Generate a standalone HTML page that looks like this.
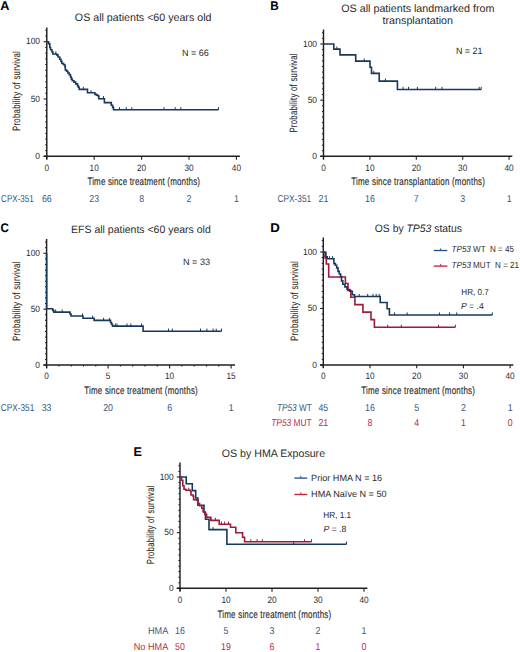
<!DOCTYPE html>
<html><head><meta charset="utf-8"><style>
html,body{margin:0;padding:0;background:#fff;}
body{width:520px;height:652px;overflow:hidden;}
svg{display:block;}
text{font-family:"Liberation Sans",sans-serif;text-rendering:geometricPrecision;}
</style></head><body>
<svg width="520" height="652" viewBox="0 0 520 652" font-family="Liberation Sans, sans-serif">
<rect width="520" height="652" fill="#ffffff"/>
<text x="0.3" y="10.4" font-size="12.6" fill="#000" font-weight="bold" textLength="9.2" lengthAdjust="spacingAndGlyphs">A</text>
<text x="74.85" y="20.7" font-size="10.8" fill="#2b2b2b" textLength="136.6" lengthAdjust="spacingAndGlyphs">OS all patients &lt;60 years old</text>
<text x="182" y="55.8" font-size="9.2" fill="#2b2b2b" textLength="26.8" lengthAdjust="spacingAndGlyphs">N = 66</text>
<line x1="46.8" y1="27.5" x2="46.8" y2="159.3" stroke="#231f20" stroke-width="1.45"/>
<line x1="43.6" y1="156.3" x2="239.9" y2="156.3" stroke="#231f20" stroke-width="1.45"/>
<line x1="43.6" y1="156.3" x2="46.8" y2="156.3" stroke="#231f20" stroke-width="1.1"/>
<line x1="45.2" y1="150.57" x2="46.8" y2="150.57" stroke="#231f20" stroke-width="1"/>
<line x1="45.2" y1="144.84" x2="46.8" y2="144.84" stroke="#231f20" stroke-width="1"/>
<line x1="45.2" y1="139.11" x2="46.8" y2="139.11" stroke="#231f20" stroke-width="1"/>
<line x1="45.2" y1="133.38" x2="46.8" y2="133.38" stroke="#231f20" stroke-width="1"/>
<line x1="45.2" y1="127.65" x2="46.8" y2="127.65" stroke="#231f20" stroke-width="1"/>
<line x1="45.2" y1="121.92" x2="46.8" y2="121.92" stroke="#231f20" stroke-width="1"/>
<line x1="45.2" y1="116.19" x2="46.8" y2="116.19" stroke="#231f20" stroke-width="1"/>
<line x1="45.2" y1="110.46" x2="46.8" y2="110.46" stroke="#231f20" stroke-width="1"/>
<line x1="45.2" y1="104.73" x2="46.8" y2="104.73" stroke="#231f20" stroke-width="1"/>
<line x1="43.6" y1="99" x2="46.8" y2="99" stroke="#231f20" stroke-width="1.1"/>
<line x1="45.2" y1="93.27" x2="46.8" y2="93.27" stroke="#231f20" stroke-width="1"/>
<line x1="45.2" y1="87.54" x2="46.8" y2="87.54" stroke="#231f20" stroke-width="1"/>
<line x1="45.2" y1="81.81" x2="46.8" y2="81.81" stroke="#231f20" stroke-width="1"/>
<line x1="45.2" y1="76.08" x2="46.8" y2="76.08" stroke="#231f20" stroke-width="1"/>
<line x1="45.2" y1="70.35" x2="46.8" y2="70.35" stroke="#231f20" stroke-width="1"/>
<line x1="45.2" y1="64.62" x2="46.8" y2="64.62" stroke="#231f20" stroke-width="1"/>
<line x1="45.2" y1="58.89" x2="46.8" y2="58.89" stroke="#231f20" stroke-width="1"/>
<line x1="45.2" y1="53.16" x2="46.8" y2="53.16" stroke="#231f20" stroke-width="1"/>
<line x1="45.2" y1="47.43" x2="46.8" y2="47.43" stroke="#231f20" stroke-width="1"/>
<line x1="43.6" y1="41.7" x2="46.8" y2="41.7" stroke="#231f20" stroke-width="1.1"/>
<line x1="45.2" y1="35.97" x2="46.8" y2="35.97" stroke="#231f20" stroke-width="1"/>
<line x1="45.2" y1="30.24" x2="46.8" y2="30.24" stroke="#231f20" stroke-width="1"/>
<line x1="46.8" y1="156.3" x2="46.8" y2="159.7" stroke="#231f20" stroke-width="1.1"/>
<line x1="94.2" y1="156.3" x2="94.2" y2="159.7" stroke="#231f20" stroke-width="1.1"/>
<line x1="141.6" y1="156.3" x2="141.6" y2="159.7" stroke="#231f20" stroke-width="1.1"/>
<line x1="189" y1="156.3" x2="189" y2="159.7" stroke="#231f20" stroke-width="1.1"/>
<line x1="236.4" y1="156.3" x2="236.4" y2="159.7" stroke="#231f20" stroke-width="1.1"/>
<text x="40" y="44.4" font-size="9.1" fill="#2b2b2b" text-anchor="end" textLength="13.97" lengthAdjust="spacingAndGlyphs">100</text>
<text x="40" y="101.7" font-size="9.1" fill="#2b2b2b" text-anchor="end" textLength="9.31" lengthAdjust="spacingAndGlyphs">50</text>
<text x="40" y="159" font-size="9.1" fill="#2b2b2b" text-anchor="end" textLength="4.66" lengthAdjust="spacingAndGlyphs">0</text>
<text x="46.8" y="170.6" font-size="9.2" fill="#2b2b2b" text-anchor="middle" textLength="4.6" lengthAdjust="spacingAndGlyphs">0</text>
<text x="94.2" y="170.6" font-size="9.2" fill="#2b2b2b" text-anchor="middle" textLength="9.21" lengthAdjust="spacingAndGlyphs">10</text>
<text x="141.6" y="170.6" font-size="9.2" fill="#2b2b2b" text-anchor="middle" textLength="9.21" lengthAdjust="spacingAndGlyphs">20</text>
<text x="189" y="170.6" font-size="9.2" fill="#2b2b2b" text-anchor="middle" textLength="9.21" lengthAdjust="spacingAndGlyphs">30</text>
<text x="236.4" y="170.6" font-size="9.2" fill="#2b2b2b" text-anchor="middle" textLength="9.21" lengthAdjust="spacingAndGlyphs">40</text>
<text transform="translate(87.4 185) scale(0.74 1)" x="0" y="0" font-size="10.8" fill="#2b2b2b" stroke="#2b2b2b" stroke-width="0.15" textLength="152.16" lengthAdjust="spacing">Time since treatment (months)</text>
<text transform="translate(19.9 91.1) rotate(-90) scale(0.74 1)" x="0" y="0" font-size="10.6" fill="#2b2b2b" stroke="#2b2b2b" stroke-width="0.1" text-anchor="middle" textLength="107.84" lengthAdjust="spacing">Probability of survival</text>
<text x="1.1" y="201.7" font-size="10" fill="#34587f" textLength="32.7" lengthAdjust="spacingAndGlyphs">CPX-351</text>
<text x="46.8" y="201.7" font-size="10" fill="#34587f" text-anchor="middle" textLength="9.79" lengthAdjust="spacingAndGlyphs">66</text>
<text x="94.2" y="201.7" font-size="10" fill="#34587f" text-anchor="middle" textLength="9.79" lengthAdjust="spacingAndGlyphs">23</text>
<text x="141.6" y="201.7" font-size="10" fill="#34587f" text-anchor="middle" textLength="4.89" lengthAdjust="spacingAndGlyphs">8</text>
<text x="189" y="201.7" font-size="10" fill="#34587f" text-anchor="middle" textLength="4.89" lengthAdjust="spacingAndGlyphs">2</text>
<text x="236.4" y="201.7" font-size="10" fill="#34587f" text-anchor="middle" textLength="4.89" lengthAdjust="spacingAndGlyphs">1</text>
<path d="M46.8 41.7H48.5V43.6H49.8V47.5H50.6V49.7H51.9V51.8H52.8V54H55.8V54H56.7V54.9H58V57H59.7V59.2H61V61.4H61.9V63.5H63.6V64.8H64.9V66.6H65.3V70H66.6V71.3H67.9V73H69.2V74.8H70.5V77H71.4V79.1H72.3V80.8H74V82.1H75.7V83.9H77.5V85.6H78.3V87.3H79.2V89.4H87.5V92.7H94.9V94.4H96.6V95.3H98.3V96.1H98.8V98.7H104.4V102.6H111.3V105.2H112.6V107.4H113.5V109.8H218.5V109.8" fill="none" stroke="#17395f" stroke-width="1.6" stroke-linejoin="miter" stroke-linecap="butt"/>
<line x1="55.8" y1="54" x2="55.8" y2="51.4" stroke="#17395f" stroke-width="1"/>
<line x1="83.4" y1="89.4" x2="83.4" y2="86.8" stroke="#17395f" stroke-width="1"/>
<line x1="91" y1="92.7" x2="91" y2="90.1" stroke="#17395f" stroke-width="1"/>
<line x1="103.5" y1="98.7" x2="103.5" y2="96.1" stroke="#17395f" stroke-width="1"/>
<line x1="119.5" y1="109.8" x2="119.5" y2="107.2" stroke="#17395f" stroke-width="1"/>
<line x1="126.2" y1="109.8" x2="126.2" y2="107.2" stroke="#17395f" stroke-width="1"/>
<line x1="131.8" y1="109.8" x2="131.8" y2="107.2" stroke="#17395f" stroke-width="1"/>
<line x1="164" y1="109.8" x2="164" y2="107.2" stroke="#17395f" stroke-width="1"/>
<line x1="175.2" y1="109.8" x2="175.2" y2="107.2" stroke="#17395f" stroke-width="1"/>
<line x1="180.9" y1="109.8" x2="180.9" y2="107.2" stroke="#17395f" stroke-width="1"/>
<line x1="218.5" y1="109.8" x2="218.5" y2="107.2" stroke="#17395f" stroke-width="1"/>
<text x="270.2" y="10.4" font-size="12.6" fill="#000" font-weight="bold" textLength="8.5" lengthAdjust="spacingAndGlyphs">B</text>
<text x="341.25" y="11.5" font-size="10.8" fill="#2b2b2b" textLength="153.2" lengthAdjust="spacingAndGlyphs">OS all patients landmarked from</text>
<text x="382.5" y="24" font-size="10.8" fill="#2b2b2b" textLength="70.5" lengthAdjust="spacingAndGlyphs">transplantation</text>
<text x="455.9" y="54.4" font-size="9.2" fill="#2b2b2b" textLength="26.6" lengthAdjust="spacingAndGlyphs">N = 21</text>
<line x1="323.5" y1="29.5" x2="323.5" y2="159.3" stroke="#231f20" stroke-width="1.45"/>
<line x1="320.3" y1="156.3" x2="512.3" y2="156.3" stroke="#231f20" stroke-width="1.45"/>
<line x1="320.3" y1="156.3" x2="323.5" y2="156.3" stroke="#231f20" stroke-width="1.1"/>
<line x1="321.9" y1="150.69" x2="323.5" y2="150.69" stroke="#231f20" stroke-width="1"/>
<line x1="321.9" y1="145.07" x2="323.5" y2="145.07" stroke="#231f20" stroke-width="1"/>
<line x1="321.9" y1="139.46" x2="323.5" y2="139.46" stroke="#231f20" stroke-width="1"/>
<line x1="321.9" y1="133.84" x2="323.5" y2="133.84" stroke="#231f20" stroke-width="1"/>
<line x1="321.9" y1="128.22" x2="323.5" y2="128.22" stroke="#231f20" stroke-width="1"/>
<line x1="321.9" y1="122.61" x2="323.5" y2="122.61" stroke="#231f20" stroke-width="1"/>
<line x1="321.9" y1="117" x2="323.5" y2="117" stroke="#231f20" stroke-width="1"/>
<line x1="321.9" y1="111.38" x2="323.5" y2="111.38" stroke="#231f20" stroke-width="1"/>
<line x1="321.9" y1="105.77" x2="323.5" y2="105.77" stroke="#231f20" stroke-width="1"/>
<line x1="320.3" y1="100.15" x2="323.5" y2="100.15" stroke="#231f20" stroke-width="1.1"/>
<line x1="321.9" y1="94.53" x2="323.5" y2="94.53" stroke="#231f20" stroke-width="1"/>
<line x1="321.9" y1="88.92" x2="323.5" y2="88.92" stroke="#231f20" stroke-width="1"/>
<line x1="321.9" y1="83.3" x2="323.5" y2="83.3" stroke="#231f20" stroke-width="1"/>
<line x1="321.9" y1="77.69" x2="323.5" y2="77.69" stroke="#231f20" stroke-width="1"/>
<line x1="321.9" y1="72.07" x2="323.5" y2="72.07" stroke="#231f20" stroke-width="1"/>
<line x1="321.9" y1="66.46" x2="323.5" y2="66.46" stroke="#231f20" stroke-width="1"/>
<line x1="321.9" y1="60.84" x2="323.5" y2="60.84" stroke="#231f20" stroke-width="1"/>
<line x1="321.9" y1="55.23" x2="323.5" y2="55.23" stroke="#231f20" stroke-width="1"/>
<line x1="321.9" y1="49.61" x2="323.5" y2="49.61" stroke="#231f20" stroke-width="1"/>
<line x1="320.3" y1="44" x2="323.5" y2="44" stroke="#231f20" stroke-width="1.1"/>
<line x1="321.9" y1="38.38" x2="323.5" y2="38.38" stroke="#231f20" stroke-width="1"/>
<line x1="321.9" y1="32.77" x2="323.5" y2="32.77" stroke="#231f20" stroke-width="1"/>
<line x1="323.5" y1="156.3" x2="323.5" y2="159.7" stroke="#231f20" stroke-width="1.1"/>
<line x1="369.9" y1="156.3" x2="369.9" y2="159.7" stroke="#231f20" stroke-width="1.1"/>
<line x1="416.3" y1="156.3" x2="416.3" y2="159.7" stroke="#231f20" stroke-width="1.1"/>
<line x1="462.7" y1="156.3" x2="462.7" y2="159.7" stroke="#231f20" stroke-width="1.1"/>
<line x1="509.1" y1="156.3" x2="509.1" y2="159.7" stroke="#231f20" stroke-width="1.1"/>
<text x="317" y="46.7" font-size="9.1" fill="#2b2b2b" text-anchor="end" textLength="13.97" lengthAdjust="spacingAndGlyphs">100</text>
<text x="317" y="102.85" font-size="9.1" fill="#2b2b2b" text-anchor="end" textLength="9.31" lengthAdjust="spacingAndGlyphs">50</text>
<text x="317" y="159" font-size="9.1" fill="#2b2b2b" text-anchor="end" textLength="4.66" lengthAdjust="spacingAndGlyphs">0</text>
<text x="323.5" y="170.7" font-size="9.2" fill="#2b2b2b" text-anchor="middle" textLength="4.6" lengthAdjust="spacingAndGlyphs">0</text>
<text x="369.9" y="170.7" font-size="9.2" fill="#2b2b2b" text-anchor="middle" textLength="9.21" lengthAdjust="spacingAndGlyphs">10</text>
<text x="416.3" y="170.7" font-size="9.2" fill="#2b2b2b" text-anchor="middle" textLength="9.21" lengthAdjust="spacingAndGlyphs">20</text>
<text x="462.7" y="170.7" font-size="9.2" fill="#2b2b2b" text-anchor="middle" textLength="9.21" lengthAdjust="spacingAndGlyphs">30</text>
<text x="509.1" y="170.7" font-size="9.2" fill="#2b2b2b" text-anchor="middle" textLength="9.21" lengthAdjust="spacingAndGlyphs">40</text>
<text transform="translate(351.25 185) scale(0.74 1)" x="0" y="0" font-size="10.8" fill="#2b2b2b" stroke="#2b2b2b" stroke-width="0.15" textLength="180.68" lengthAdjust="spacing">Time since transplantation (months)</text>
<text transform="translate(297.1 93) rotate(-90) scale(0.74 1)" x="0" y="0" font-size="10.6" fill="#2b2b2b" stroke="#2b2b2b" stroke-width="0.1" text-anchor="middle" textLength="107.03" lengthAdjust="spacing">Probability of survival</text>
<text x="277.5" y="201.9" font-size="10" fill="#34587f" textLength="33.7" lengthAdjust="spacingAndGlyphs">CPX-351</text>
<text x="323.5" y="201.9" font-size="10" fill="#34587f" text-anchor="middle" textLength="9.79" lengthAdjust="spacingAndGlyphs">21</text>
<text x="369.9" y="201.9" font-size="10" fill="#34587f" text-anchor="middle" textLength="9.79" lengthAdjust="spacingAndGlyphs">16</text>
<text x="416.3" y="201.9" font-size="10" fill="#34587f" text-anchor="middle" textLength="4.89" lengthAdjust="spacingAndGlyphs">7</text>
<text x="462.7" y="201.9" font-size="10" fill="#34587f" text-anchor="middle" textLength="4.89" lengthAdjust="spacingAndGlyphs">3</text>
<text x="509.1" y="201.9" font-size="10" fill="#34587f" text-anchor="middle" textLength="4.89" lengthAdjust="spacingAndGlyphs">1</text>
<path d="M323.5 44H333.8V49.1H340V54.9H355.7V61.1H370V67.2H371.5V73.4H379.2V81.1H397.4V89.5H481.2V89.5" fill="none" stroke="#17395f" stroke-width="1.6" stroke-linejoin="miter" stroke-linecap="butt"/>
<line x1="336.9" y1="49.1" x2="336.9" y2="46.5" stroke="#17395f" stroke-width="1"/>
<line x1="364.2" y1="61.1" x2="364.2" y2="58.5" stroke="#17395f" stroke-width="1"/>
<line x1="373.8" y1="73.4" x2="373.8" y2="70.8" stroke="#17395f" stroke-width="1"/>
<line x1="385.4" y1="81.1" x2="385.4" y2="78.5" stroke="#17395f" stroke-width="1"/>
<line x1="403.1" y1="89.5" x2="403.1" y2="86.9" stroke="#17395f" stroke-width="1"/>
<line x1="408.5" y1="89.5" x2="408.5" y2="86.9" stroke="#17395f" stroke-width="1"/>
<line x1="417.4" y1="89.5" x2="417.4" y2="86.9" stroke="#17395f" stroke-width="1"/>
<line x1="435.7" y1="89.5" x2="435.7" y2="86.9" stroke="#17395f" stroke-width="1"/>
<line x1="442" y1="89.5" x2="442" y2="86.9" stroke="#17395f" stroke-width="1"/>
<line x1="479.2" y1="89.5" x2="479.2" y2="86.9" stroke="#17395f" stroke-width="1"/>
<line x1="481.2" y1="89.5" x2="481.2" y2="86.9" stroke="#17395f" stroke-width="1"/>
<text x="0.4" y="232.2" font-size="12.6" fill="#000" font-weight="bold" textLength="8.4" lengthAdjust="spacingAndGlyphs">C</text>
<text x="71.1" y="232.6" font-size="10.6" fill="#2b2b2b" textLength="139.7" lengthAdjust="spacingAndGlyphs">EFS all patients &lt;60 years old</text>
<text x="183" y="264.8" font-size="9.2" fill="#2b2b2b" textLength="27" lengthAdjust="spacingAndGlyphs">N = 33</text>
<line x1="46.6" y1="239" x2="46.6" y2="368" stroke="#231f20" stroke-width="1.45"/>
<line x1="43.4" y1="365" x2="235" y2="365" stroke="#231f20" stroke-width="1.45"/>
<line x1="43.4" y1="365" x2="46.6" y2="365" stroke="#231f20" stroke-width="1.1"/>
<line x1="45" y1="359.42" x2="46.6" y2="359.42" stroke="#231f20" stroke-width="1"/>
<line x1="45" y1="353.83" x2="46.6" y2="353.83" stroke="#231f20" stroke-width="1"/>
<line x1="45" y1="348.25" x2="46.6" y2="348.25" stroke="#231f20" stroke-width="1"/>
<line x1="45" y1="342.66" x2="46.6" y2="342.66" stroke="#231f20" stroke-width="1"/>
<line x1="45" y1="337.07" x2="46.6" y2="337.07" stroke="#231f20" stroke-width="1"/>
<line x1="45" y1="331.49" x2="46.6" y2="331.49" stroke="#231f20" stroke-width="1"/>
<line x1="45" y1="325.9" x2="46.6" y2="325.9" stroke="#231f20" stroke-width="1"/>
<line x1="45" y1="320.32" x2="46.6" y2="320.32" stroke="#231f20" stroke-width="1"/>
<line x1="45" y1="314.74" x2="46.6" y2="314.74" stroke="#231f20" stroke-width="1"/>
<line x1="43.4" y1="309.15" x2="46.6" y2="309.15" stroke="#231f20" stroke-width="1.1"/>
<line x1="45" y1="303.56" x2="46.6" y2="303.56" stroke="#231f20" stroke-width="1"/>
<line x1="45" y1="297.98" x2="46.6" y2="297.98" stroke="#231f20" stroke-width="1"/>
<line x1="45" y1="292.39" x2="46.6" y2="292.39" stroke="#231f20" stroke-width="1"/>
<line x1="45" y1="286.81" x2="46.6" y2="286.81" stroke="#231f20" stroke-width="1"/>
<line x1="45" y1="281.23" x2="46.6" y2="281.23" stroke="#231f20" stroke-width="1"/>
<line x1="45" y1="275.64" x2="46.6" y2="275.64" stroke="#231f20" stroke-width="1"/>
<line x1="45" y1="270.06" x2="46.6" y2="270.06" stroke="#231f20" stroke-width="1"/>
<line x1="45" y1="264.47" x2="46.6" y2="264.47" stroke="#231f20" stroke-width="1"/>
<line x1="45" y1="258.88" x2="46.6" y2="258.88" stroke="#231f20" stroke-width="1"/>
<line x1="43.4" y1="253.3" x2="46.6" y2="253.3" stroke="#231f20" stroke-width="1.1"/>
<line x1="45" y1="247.72" x2="46.6" y2="247.72" stroke="#231f20" stroke-width="1"/>
<line x1="45" y1="242.13" x2="46.6" y2="242.13" stroke="#231f20" stroke-width="1"/>
<line x1="46.6" y1="365" x2="46.6" y2="368.4" stroke="#231f20" stroke-width="1.1"/>
<line x1="108.1" y1="365" x2="108.1" y2="368.4" stroke="#231f20" stroke-width="1.1"/>
<line x1="169.6" y1="365" x2="169.6" y2="368.4" stroke="#231f20" stroke-width="1.1"/>
<line x1="231.1" y1="365" x2="231.1" y2="368.4" stroke="#231f20" stroke-width="1.1"/>
<line x1="58.9" y1="365" x2="58.9" y2="366.6" stroke="#231f20" stroke-width="1"/>
<line x1="71.2" y1="365" x2="71.2" y2="366.6" stroke="#231f20" stroke-width="1"/>
<line x1="83.5" y1="365" x2="83.5" y2="366.6" stroke="#231f20" stroke-width="1"/>
<line x1="95.8" y1="365" x2="95.8" y2="366.6" stroke="#231f20" stroke-width="1"/>
<line x1="120.4" y1="365" x2="120.4" y2="366.6" stroke="#231f20" stroke-width="1"/>
<line x1="132.7" y1="365" x2="132.7" y2="366.6" stroke="#231f20" stroke-width="1"/>
<line x1="145" y1="365" x2="145" y2="366.6" stroke="#231f20" stroke-width="1"/>
<line x1="157.3" y1="365" x2="157.3" y2="366.6" stroke="#231f20" stroke-width="1"/>
<line x1="181.9" y1="365" x2="181.9" y2="366.6" stroke="#231f20" stroke-width="1"/>
<line x1="194.2" y1="365" x2="194.2" y2="366.6" stroke="#231f20" stroke-width="1"/>
<line x1="206.5" y1="365" x2="206.5" y2="366.6" stroke="#231f20" stroke-width="1"/>
<line x1="218.8" y1="365" x2="218.8" y2="366.6" stroke="#231f20" stroke-width="1"/>
<text x="40" y="256" font-size="9.1" fill="#2b2b2b" text-anchor="end" textLength="13.97" lengthAdjust="spacingAndGlyphs">100</text>
<text x="40" y="311.85" font-size="9.1" fill="#2b2b2b" text-anchor="end" textLength="9.31" lengthAdjust="spacingAndGlyphs">50</text>
<text x="40" y="367.7" font-size="9.1" fill="#2b2b2b" text-anchor="end" textLength="4.66" lengthAdjust="spacingAndGlyphs">0</text>
<text x="46.6" y="379.3" font-size="9.2" fill="#2b2b2b" text-anchor="middle" textLength="4.6" lengthAdjust="spacingAndGlyphs">0</text>
<text x="108.1" y="379.3" font-size="9.2" fill="#2b2b2b" text-anchor="middle" textLength="4.6" lengthAdjust="spacingAndGlyphs">5</text>
<text x="169.6" y="379.3" font-size="9.2" fill="#2b2b2b" text-anchor="middle" textLength="9.21" lengthAdjust="spacingAndGlyphs">10</text>
<text x="231.1" y="379.3" font-size="9.2" fill="#2b2b2b" text-anchor="middle" textLength="9.21" lengthAdjust="spacingAndGlyphs">15</text>
<text transform="translate(84.25 394.3) scale(0.74 1)" x="0" y="0" font-size="10.8" fill="#2b2b2b" stroke="#2b2b2b" stroke-width="0.15" textLength="153.38" lengthAdjust="spacing">Time since treatment (months)</text>
<text transform="translate(20 301.3) rotate(-90) scale(0.74 1)" x="0" y="0" font-size="10.6" fill="#2b2b2b" stroke="#2b2b2b" stroke-width="0.1" text-anchor="middle" textLength="107.3" lengthAdjust="spacing">Probability of survival</text>
<text x="0.75" y="410.5" font-size="10" fill="#34587f" textLength="33.5" lengthAdjust="spacingAndGlyphs">CPX-351</text>
<text x="46.6" y="410.5" font-size="10" fill="#34587f" text-anchor="middle" textLength="9.79" lengthAdjust="spacingAndGlyphs">33</text>
<text x="108.1" y="410.5" font-size="10" fill="#34587f" text-anchor="middle" textLength="9.79" lengthAdjust="spacingAndGlyphs">20</text>
<text x="169.6" y="410.5" font-size="10" fill="#34587f" text-anchor="middle" textLength="4.89" lengthAdjust="spacingAndGlyphs">6</text>
<text x="231.1" y="410.5" font-size="10" fill="#34587f" text-anchor="middle" textLength="4.89" lengthAdjust="spacingAndGlyphs">1</text>
<path d="M46.6 253.3H46.6V308.7H52.7V310.4H53.8V312.1H70V314H71V316H83V318.2H94.1V320.4H110.5V322.5H111.5V324.2H112.5V326.1H143.1V331.2H221.5V331.2" fill="none" stroke="#17395f" stroke-width="1.6" stroke-linejoin="miter" stroke-linecap="butt"/>
<line x1="55.7" y1="312.1" x2="55.7" y2="309.5" stroke="#17395f" stroke-width="1"/>
<line x1="62.2" y1="312.1" x2="62.2" y2="309.5" stroke="#17395f" stroke-width="1"/>
<line x1="82.5" y1="316" x2="82.5" y2="313.4" stroke="#17395f" stroke-width="1"/>
<line x1="92.6" y1="318.2" x2="92.6" y2="315.6" stroke="#17395f" stroke-width="1"/>
<line x1="103.6" y1="320.4" x2="103.6" y2="317.8" stroke="#17395f" stroke-width="1"/>
<line x1="109.4" y1="320.4" x2="109.4" y2="317.8" stroke="#17395f" stroke-width="1"/>
<line x1="115.4" y1="326.1" x2="115.4" y2="323.5" stroke="#17395f" stroke-width="1"/>
<line x1="117" y1="326.1" x2="117" y2="323.5" stroke="#17395f" stroke-width="1"/>
<line x1="127" y1="326.1" x2="127" y2="323.5" stroke="#17395f" stroke-width="1"/>
<line x1="130.8" y1="326.1" x2="130.8" y2="323.5" stroke="#17395f" stroke-width="1"/>
<line x1="141.5" y1="326.1" x2="141.5" y2="323.5" stroke="#17395f" stroke-width="1"/>
<line x1="168.5" y1="331.2" x2="168.5" y2="328.6" stroke="#17395f" stroke-width="1"/>
<line x1="172.3" y1="331.2" x2="172.3" y2="328.6" stroke="#17395f" stroke-width="1"/>
<line x1="200.5" y1="331.2" x2="200.5" y2="328.6" stroke="#17395f" stroke-width="1"/>
<line x1="206.9" y1="331.2" x2="206.9" y2="328.6" stroke="#17395f" stroke-width="1"/>
<line x1="213.1" y1="331.2" x2="213.1" y2="328.6" stroke="#17395f" stroke-width="1"/>
<line x1="216.2" y1="331.2" x2="216.2" y2="328.6" stroke="#17395f" stroke-width="1"/>
<line x1="221.5" y1="331.2" x2="221.5" y2="328.6" stroke="#17395f" stroke-width="1"/>
<text x="270.2" y="231.5" font-size="12.6" fill="#000" font-weight="bold" textLength="9.6" lengthAdjust="spacingAndGlyphs">D</text>
<text x="374.8" y="232" font-size="10.8" fill="#2b2b2b" textLength="87.1" lengthAdjust="spacingAndGlyphs">OS by <tspan font-style="italic">TP53</tspan> status</text>
<line x1="323.3" y1="237.5" x2="323.3" y2="367.9" stroke="#231f20" stroke-width="1.45"/>
<line x1="320.1" y1="364.9" x2="513.3" y2="364.9" stroke="#231f20" stroke-width="1.45"/>
<line x1="320.1" y1="364.9" x2="323.3" y2="364.9" stroke="#231f20" stroke-width="1.1"/>
<line x1="321.7" y1="359.25" x2="323.3" y2="359.25" stroke="#231f20" stroke-width="1"/>
<line x1="321.7" y1="353.61" x2="323.3" y2="353.61" stroke="#231f20" stroke-width="1"/>
<line x1="321.7" y1="347.96" x2="323.3" y2="347.96" stroke="#231f20" stroke-width="1"/>
<line x1="321.7" y1="342.32" x2="323.3" y2="342.32" stroke="#231f20" stroke-width="1"/>
<line x1="321.7" y1="336.67" x2="323.3" y2="336.67" stroke="#231f20" stroke-width="1"/>
<line x1="321.7" y1="331.03" x2="323.3" y2="331.03" stroke="#231f20" stroke-width="1"/>
<line x1="321.7" y1="325.38" x2="323.3" y2="325.38" stroke="#231f20" stroke-width="1"/>
<line x1="321.7" y1="319.74" x2="323.3" y2="319.74" stroke="#231f20" stroke-width="1"/>
<line x1="321.7" y1="314.09" x2="323.3" y2="314.09" stroke="#231f20" stroke-width="1"/>
<line x1="320.1" y1="308.45" x2="323.3" y2="308.45" stroke="#231f20" stroke-width="1.1"/>
<line x1="321.7" y1="302.81" x2="323.3" y2="302.81" stroke="#231f20" stroke-width="1"/>
<line x1="321.7" y1="297.16" x2="323.3" y2="297.16" stroke="#231f20" stroke-width="1"/>
<line x1="321.7" y1="291.51" x2="323.3" y2="291.51" stroke="#231f20" stroke-width="1"/>
<line x1="321.7" y1="285.87" x2="323.3" y2="285.87" stroke="#231f20" stroke-width="1"/>
<line x1="321.7" y1="280.23" x2="323.3" y2="280.23" stroke="#231f20" stroke-width="1"/>
<line x1="321.7" y1="274.58" x2="323.3" y2="274.58" stroke="#231f20" stroke-width="1"/>
<line x1="321.7" y1="268.94" x2="323.3" y2="268.94" stroke="#231f20" stroke-width="1"/>
<line x1="321.7" y1="263.29" x2="323.3" y2="263.29" stroke="#231f20" stroke-width="1"/>
<line x1="321.7" y1="257.64" x2="323.3" y2="257.64" stroke="#231f20" stroke-width="1"/>
<line x1="320.1" y1="252" x2="323.3" y2="252" stroke="#231f20" stroke-width="1.1"/>
<line x1="321.7" y1="246.36" x2="323.3" y2="246.36" stroke="#231f20" stroke-width="1"/>
<line x1="321.7" y1="240.71" x2="323.3" y2="240.71" stroke="#231f20" stroke-width="1"/>
<line x1="323.3" y1="364.9" x2="323.3" y2="368.3" stroke="#231f20" stroke-width="1.1"/>
<line x1="370" y1="364.9" x2="370" y2="368.3" stroke="#231f20" stroke-width="1.1"/>
<line x1="416.7" y1="364.9" x2="416.7" y2="368.3" stroke="#231f20" stroke-width="1.1"/>
<line x1="463.4" y1="364.9" x2="463.4" y2="368.3" stroke="#231f20" stroke-width="1.1"/>
<line x1="510.1" y1="364.9" x2="510.1" y2="368.3" stroke="#231f20" stroke-width="1.1"/>
<text x="317" y="254.7" font-size="9.1" fill="#2b2b2b" text-anchor="end" textLength="13.97" lengthAdjust="spacingAndGlyphs">100</text>
<text x="317" y="311.15" font-size="9.1" fill="#2b2b2b" text-anchor="end" textLength="9.31" lengthAdjust="spacingAndGlyphs">50</text>
<text x="317" y="367.6" font-size="9.1" fill="#2b2b2b" text-anchor="end" textLength="4.66" lengthAdjust="spacingAndGlyphs">0</text>
<text x="323.3" y="379.3" font-size="9.2" fill="#2b2b2b" text-anchor="middle" textLength="4.6" lengthAdjust="spacingAndGlyphs">0</text>
<text x="370" y="379.3" font-size="9.2" fill="#2b2b2b" text-anchor="middle" textLength="9.21" lengthAdjust="spacingAndGlyphs">10</text>
<text x="416.7" y="379.3" font-size="9.2" fill="#2b2b2b" text-anchor="middle" textLength="9.21" lengthAdjust="spacingAndGlyphs">20</text>
<text x="463.4" y="379.3" font-size="9.2" fill="#2b2b2b" text-anchor="middle" textLength="9.21" lengthAdjust="spacingAndGlyphs">30</text>
<text x="510.1" y="379.3" font-size="9.2" fill="#2b2b2b" text-anchor="middle" textLength="9.21" lengthAdjust="spacingAndGlyphs">40</text>
<text transform="translate(361.25 394.3) scale(0.74 1)" x="0" y="0" font-size="10.8" fill="#2b2b2b" stroke="#2b2b2b" stroke-width="0.15" textLength="153.65" lengthAdjust="spacing">Time since treatment (months)</text>
<text transform="translate(297.6 301.1) rotate(-90) scale(0.74 1)" x="0" y="0" font-size="10.6" fill="#2b2b2b" stroke="#2b2b2b" stroke-width="0.1" text-anchor="middle" textLength="107.97" lengthAdjust="spacing">Probability of survival</text>
<line x1="433.8" y1="250.5" x2="447.3" y2="250.5" stroke="#1f4f8a" stroke-width="1.3"/>
<line x1="440.6" y1="250.5" x2="440.6" y2="248.3" stroke="#1f4f8a" stroke-width="0.9"/>
<line x1="433.8" y1="266.1" x2="447.3" y2="266.1" stroke="#c0203c" stroke-width="1.3"/>
<line x1="440.6" y1="266.1" x2="440.6" y2="263.9" stroke="#c0203c" stroke-width="0.9"/>
<text x="451.6" y="252.1" font-size="8.9" fill="#2b2b2b" textLength="62.4" lengthAdjust="spacingAndGlyphs"><tspan font-style="italic">TP53</tspan> WT&#160;&#160;N = 45</text>
<text x="451.6" y="267.7" font-size="8.9" fill="#2b2b2b" textLength="67.5" lengthAdjust="spacingAndGlyphs"><tspan font-style="italic">TP53</tspan> MUT&#160;&#160;N = 21</text>
<text x="461.3" y="295" font-size="8.9" fill="#2b2b2b" textLength="27.6" lengthAdjust="spacingAndGlyphs">HR, 0.7</text>
<text x="461" y="308.5" font-size="8.9" fill="#2b2b2b" textLength="22.7" lengthAdjust="spacingAndGlyphs"><tspan font-style="italic">P</tspan> = .4</text>
<text x="311.75" y="410.5" font-size="10.0" fill="#34587f" text-anchor="end" textLength="34.75" lengthAdjust="spacingAndGlyphs"><tspan font-style="italic">TP53</tspan> WT</text>
<text x="311.75" y="426.0" font-size="10.0" fill="#b62a48" text-anchor="end" textLength="40.5" lengthAdjust="spacingAndGlyphs"><tspan font-style="italic">TP53</tspan> MUT</text>
<text x="323.3" y="410.5" font-size="10" fill="#34587f" text-anchor="middle" textLength="9.79" lengthAdjust="spacingAndGlyphs">45</text>
<text x="370" y="410.5" font-size="10" fill="#34587f" text-anchor="middle" textLength="9.79" lengthAdjust="spacingAndGlyphs">16</text>
<text x="416.7" y="410.5" font-size="10" fill="#34587f" text-anchor="middle" textLength="4.89" lengthAdjust="spacingAndGlyphs">5</text>
<text x="463.4" y="410.5" font-size="10" fill="#34587f" text-anchor="middle" textLength="4.89" lengthAdjust="spacingAndGlyphs">2</text>
<text x="510.1" y="410.5" font-size="10" fill="#34587f" text-anchor="middle" textLength="4.89" lengthAdjust="spacingAndGlyphs">1</text>
<text x="323.3" y="426" font-size="10" fill="#b62a48" text-anchor="middle" textLength="9.79" lengthAdjust="spacingAndGlyphs">21</text>
<text x="370" y="426" font-size="10" fill="#b62a48" text-anchor="middle" textLength="4.89" lengthAdjust="spacingAndGlyphs">8</text>
<text x="416.7" y="426" font-size="10" fill="#b62a48" text-anchor="middle" textLength="4.89" lengthAdjust="spacingAndGlyphs">4</text>
<text x="463.4" y="426" font-size="10" fill="#b62a48" text-anchor="middle" textLength="4.89" lengthAdjust="spacingAndGlyphs">1</text>
<text x="510.1" y="426" font-size="10" fill="#b62a48" text-anchor="middle" textLength="4.89" lengthAdjust="spacingAndGlyphs">0</text>
<path d="M323.5 252.3H325V258H326.3V264H328.7V277H345.4V283.5H348V290.4H350.8V297.3H354.9V304.6H362.9V312.1H371V319.6H374.4V327.3H455.4V327.3" fill="none" stroke="#9e1a36" stroke-width="1.6" stroke-linejoin="miter" stroke-linecap="butt"/>
<line x1="387.7" y1="327.3" x2="387.7" y2="324.7" stroke="#9e1a36" stroke-width="1"/>
<line x1="401.3" y1="327.3" x2="401.3" y2="324.7" stroke="#9e1a36" stroke-width="1"/>
<line x1="438.5" y1="327.3" x2="438.5" y2="324.7" stroke="#9e1a36" stroke-width="1"/>
<line x1="455.4" y1="327.3" x2="455.4" y2="324.7" stroke="#9e1a36" stroke-width="1"/>
<path d="M323.5 252.3H325.9V256.7H327.2V258.8H333.9V263.6H335.4V265.3H336.7V267.9H338V271.4H339.3V274H340.6V276.6H341.5V280.9H342.8V284.3H344.9V286.9H347.1V289.5H349.7V291.3H352.3V294.7H354.5V296.5H380.2V302.5H387.1V308.7H389.4V315H492.3V315" fill="none" stroke="#17395f" stroke-width="1.6" stroke-linejoin="miter" stroke-linecap="butt"/>
<line x1="329.4" y1="258.8" x2="329.4" y2="256.2" stroke="#17395f" stroke-width="1"/>
<line x1="332.4" y1="258.8" x2="332.4" y2="256.2" stroke="#17395f" stroke-width="1"/>
<line x1="359.2" y1="296.5" x2="359.2" y2="293.9" stroke="#17395f" stroke-width="1"/>
<line x1="367.7" y1="296.5" x2="367.7" y2="293.9" stroke="#17395f" stroke-width="1"/>
<line x1="373" y1="296.5" x2="373" y2="293.9" stroke="#17395f" stroke-width="1"/>
<line x1="376.2" y1="296.5" x2="376.2" y2="293.9" stroke="#17395f" stroke-width="1"/>
<line x1="379.2" y1="296.5" x2="379.2" y2="293.9" stroke="#17395f" stroke-width="1"/>
<line x1="394.6" y1="315" x2="394.6" y2="312.4" stroke="#17395f" stroke-width="1"/>
<line x1="407.2" y1="315" x2="407.2" y2="312.4" stroke="#17395f" stroke-width="1"/>
<line x1="439.4" y1="315" x2="439.4" y2="312.4" stroke="#17395f" stroke-width="1"/>
<line x1="449.6" y1="315" x2="449.6" y2="312.4" stroke="#17395f" stroke-width="1"/>
<line x1="456.7" y1="315" x2="456.7" y2="312.4" stroke="#17395f" stroke-width="1"/>
<line x1="492.3" y1="315" x2="492.3" y2="312.4" stroke="#17395f" stroke-width="1"/>
<text x="133.4" y="455.7" font-size="12.6" fill="#000" font-weight="bold" textLength="8.4" lengthAdjust="spacingAndGlyphs">E</text>
<text x="221.75" y="457" font-size="10.8" fill="#2b2b2b" textLength="103.3" lengthAdjust="spacingAndGlyphs">OS by HMA Exposure</text>
<line x1="180" y1="462.5" x2="180" y2="591.3" stroke="#231f20" stroke-width="1.45"/>
<line x1="176.8" y1="588.3" x2="367.4" y2="588.3" stroke="#231f20" stroke-width="1.45"/>
<line x1="176.8" y1="588.3" x2="180" y2="588.3" stroke="#231f20" stroke-width="1.1"/>
<line x1="178.4" y1="582.73" x2="180" y2="582.73" stroke="#231f20" stroke-width="1"/>
<line x1="178.4" y1="577.17" x2="180" y2="577.17" stroke="#231f20" stroke-width="1"/>
<line x1="178.4" y1="571.61" x2="180" y2="571.61" stroke="#231f20" stroke-width="1"/>
<line x1="178.4" y1="566.04" x2="180" y2="566.04" stroke="#231f20" stroke-width="1"/>
<line x1="178.4" y1="560.47" x2="180" y2="560.47" stroke="#231f20" stroke-width="1"/>
<line x1="178.4" y1="554.91" x2="180" y2="554.91" stroke="#231f20" stroke-width="1"/>
<line x1="178.4" y1="549.35" x2="180" y2="549.35" stroke="#231f20" stroke-width="1"/>
<line x1="178.4" y1="543.78" x2="180" y2="543.78" stroke="#231f20" stroke-width="1"/>
<line x1="178.4" y1="538.21" x2="180" y2="538.21" stroke="#231f20" stroke-width="1"/>
<line x1="176.8" y1="532.65" x2="180" y2="532.65" stroke="#231f20" stroke-width="1.1"/>
<line x1="178.4" y1="527.09" x2="180" y2="527.09" stroke="#231f20" stroke-width="1"/>
<line x1="178.4" y1="521.52" x2="180" y2="521.52" stroke="#231f20" stroke-width="1"/>
<line x1="178.4" y1="515.95" x2="180" y2="515.95" stroke="#231f20" stroke-width="1"/>
<line x1="178.4" y1="510.39" x2="180" y2="510.39" stroke="#231f20" stroke-width="1"/>
<line x1="178.4" y1="504.82" x2="180" y2="504.82" stroke="#231f20" stroke-width="1"/>
<line x1="178.4" y1="499.26" x2="180" y2="499.26" stroke="#231f20" stroke-width="1"/>
<line x1="178.4" y1="493.69" x2="180" y2="493.69" stroke="#231f20" stroke-width="1"/>
<line x1="178.4" y1="488.13" x2="180" y2="488.13" stroke="#231f20" stroke-width="1"/>
<line x1="178.4" y1="482.56" x2="180" y2="482.56" stroke="#231f20" stroke-width="1"/>
<line x1="176.8" y1="477" x2="180" y2="477" stroke="#231f20" stroke-width="1.1"/>
<line x1="178.4" y1="471.44" x2="180" y2="471.44" stroke="#231f20" stroke-width="1"/>
<line x1="178.4" y1="465.87" x2="180" y2="465.87" stroke="#231f20" stroke-width="1"/>
<line x1="180" y1="588.3" x2="180" y2="591.7" stroke="#231f20" stroke-width="1.1"/>
<line x1="226" y1="588.3" x2="226" y2="591.7" stroke="#231f20" stroke-width="1.1"/>
<line x1="272" y1="588.3" x2="272" y2="591.7" stroke="#231f20" stroke-width="1.1"/>
<line x1="318" y1="588.3" x2="318" y2="591.7" stroke="#231f20" stroke-width="1.1"/>
<line x1="364" y1="588.3" x2="364" y2="591.7" stroke="#231f20" stroke-width="1.1"/>
<text x="173.6" y="479.7" font-size="9.1" fill="#2b2b2b" text-anchor="end" textLength="13.97" lengthAdjust="spacingAndGlyphs">100</text>
<text x="173.6" y="535.35" font-size="9.1" fill="#2b2b2b" text-anchor="end" textLength="9.31" lengthAdjust="spacingAndGlyphs">50</text>
<text x="173.6" y="591" font-size="9.1" fill="#2b2b2b" text-anchor="end" textLength="4.66" lengthAdjust="spacingAndGlyphs">0</text>
<text x="180" y="602.6" font-size="9.2" fill="#2b2b2b" text-anchor="middle" textLength="4.6" lengthAdjust="spacingAndGlyphs">0</text>
<text x="226" y="602.6" font-size="9.2" fill="#2b2b2b" text-anchor="middle" textLength="9.21" lengthAdjust="spacingAndGlyphs">10</text>
<text x="272" y="602.6" font-size="9.2" fill="#2b2b2b" text-anchor="middle" textLength="9.21" lengthAdjust="spacingAndGlyphs">20</text>
<text x="318" y="602.6" font-size="9.2" fill="#2b2b2b" text-anchor="middle" textLength="9.21" lengthAdjust="spacingAndGlyphs">30</text>
<text x="364" y="602.6" font-size="9.2" fill="#2b2b2b" text-anchor="middle" textLength="9.21" lengthAdjust="spacingAndGlyphs">40</text>
<text transform="translate(217.5 617.5) scale(0.74 1)" x="0" y="0" font-size="10.8" fill="#2b2b2b" stroke="#2b2b2b" stroke-width="0.15" textLength="153.72" lengthAdjust="spacing">Time since treatment (months)</text>
<text transform="translate(153.9 524.9) rotate(-90) scale(0.74 1)" x="0" y="0" font-size="10.4" fill="#2b2b2b" stroke="#2b2b2b" stroke-width="0.1" text-anchor="middle" textLength="106.22" lengthAdjust="spacing">Probability of survival</text>
<line x1="294.3" y1="478.1" x2="307.3" y2="478.1" stroke="#1f4f8a" stroke-width="1.3"/>
<line x1="300.8" y1="478.1" x2="300.8" y2="475.9" stroke="#1f4f8a" stroke-width="0.9"/>
<line x1="294.3" y1="494.5" x2="307.3" y2="494.5" stroke="#c0203c" stroke-width="1.3"/>
<line x1="300.8" y1="494.5" x2="300.8" y2="492.3" stroke="#c0203c" stroke-width="0.9"/>
<text x="311.1" y="480.5" font-size="9" fill="#2b2b2b" textLength="71" lengthAdjust="spacingAndGlyphs">Prior HMA N = 16</text>
<text x="311.1" y="496.8" font-size="9" fill="#2b2b2b" textLength="75.4" lengthAdjust="spacingAndGlyphs">HMA Naïve N = 50</text>
<text x="323.3" y="518.3" font-size="8.9" fill="#2b2b2b" textLength="27.9" lengthAdjust="spacingAndGlyphs">HR, 1.1</text>
<text x="323.5" y="532.2" font-size="8.9" fill="#2b2b2b" textLength="22.8" lengthAdjust="spacingAndGlyphs"><tspan font-style="italic">P</tspan> = .8</text>
<text x="168.25" y="633.8" font-size="10" fill="#34587f" text-anchor="end" textLength="20.25" lengthAdjust="spacingAndGlyphs">HMA</text>
<text x="168.25" y="650" font-size="10" fill="#b62a48" text-anchor="end" textLength="34.5" lengthAdjust="spacingAndGlyphs">No HMA</text>
<text x="180" y="633.8" font-size="10" fill="#34587f" text-anchor="middle" textLength="9.79" lengthAdjust="spacingAndGlyphs">16</text>
<text x="226" y="633.8" font-size="10" fill="#34587f" text-anchor="middle" textLength="4.89" lengthAdjust="spacingAndGlyphs">5</text>
<text x="272" y="633.8" font-size="10" fill="#34587f" text-anchor="middle" textLength="4.89" lengthAdjust="spacingAndGlyphs">3</text>
<text x="318" y="633.8" font-size="10" fill="#34587f" text-anchor="middle" textLength="4.89" lengthAdjust="spacingAndGlyphs">2</text>
<text x="364" y="633.8" font-size="10" fill="#34587f" text-anchor="middle" textLength="4.89" lengthAdjust="spacingAndGlyphs">1</text>
<text x="180" y="650" font-size="10" fill="#b62a48" text-anchor="middle" textLength="9.79" lengthAdjust="spacingAndGlyphs">50</text>
<text x="226" y="650" font-size="10" fill="#b62a48" text-anchor="middle" textLength="9.79" lengthAdjust="spacingAndGlyphs">19</text>
<text x="272" y="650" font-size="10" fill="#b62a48" text-anchor="middle" textLength="4.89" lengthAdjust="spacingAndGlyphs">6</text>
<text x="318" y="650" font-size="10" fill="#b62a48" text-anchor="middle" textLength="4.89" lengthAdjust="spacingAndGlyphs">1</text>
<text x="364" y="650" font-size="10" fill="#b62a48" text-anchor="middle" textLength="4.89" lengthAdjust="spacingAndGlyphs">0</text>
<path d="M180.2 477H186.2V483.7H192.3V490.6H195.7V498H197.9V505.3H204V512.2H205.5V519.2H209V529.6H226.9V544.2H346.5V544.2" fill="none" stroke="#17395f" stroke-width="1.6" stroke-linejoin="miter" stroke-linecap="butt"/>
<line x1="213" y1="529.6" x2="213" y2="527" stroke="#17395f" stroke-width="1"/>
<line x1="293.7" y1="544.2" x2="293.7" y2="541.6" stroke="#17395f" stroke-width="1"/>
<line x1="346.5" y1="544.2" x2="346.5" y2="541.6" stroke="#17395f" stroke-width="1"/>
<path d="M180.2 477H181.5V480.2H182.8V485.8H184V489.3H185.8V490.2H190.5V491.5H191V495H193.1V496.2H193.6V499.7H196.6V500.1H197.9V503.6H199.6V505.7H201.8V508.3H203.1V511.8H204.8V514.4H206.6V517.3H210.8V520.4H219.2V524.2H230.5V527.3H235.8V532.7H242.6V537.3H244.6V541.8H311.5V541.8" fill="none" stroke="#9e1a36" stroke-width="1.6" stroke-linejoin="miter" stroke-linecap="butt"/>
<line x1="188.8" y1="490.2" x2="188.8" y2="487.6" stroke="#9e1a36" stroke-width="1"/>
<line x1="210.8" y1="520.4" x2="210.8" y2="517.8" stroke="#9e1a36" stroke-width="1"/>
<line x1="215.4" y1="520.4" x2="215.4" y2="517.8" stroke="#9e1a36" stroke-width="1"/>
<line x1="221.5" y1="524.2" x2="221.5" y2="521.6" stroke="#9e1a36" stroke-width="1"/>
<line x1="224.6" y1="524.2" x2="224.6" y2="521.6" stroke="#9e1a36" stroke-width="1"/>
<line x1="228.5" y1="524.2" x2="228.5" y2="521.6" stroke="#9e1a36" stroke-width="1"/>
<line x1="250.8" y1="541.8" x2="250.8" y2="539.2" stroke="#9e1a36" stroke-width="1"/>
<line x1="257" y1="541.8" x2="257" y2="539.2" stroke="#9e1a36" stroke-width="1"/>
<line x1="262.3" y1="541.8" x2="262.3" y2="539.2" stroke="#9e1a36" stroke-width="1"/>
<line x1="304.6" y1="541.8" x2="304.6" y2="539.2" stroke="#9e1a36" stroke-width="1"/>
<line x1="311.5" y1="541.8" x2="311.5" y2="539.2" stroke="#9e1a36" stroke-width="1"/>
</svg>
</body></html>
